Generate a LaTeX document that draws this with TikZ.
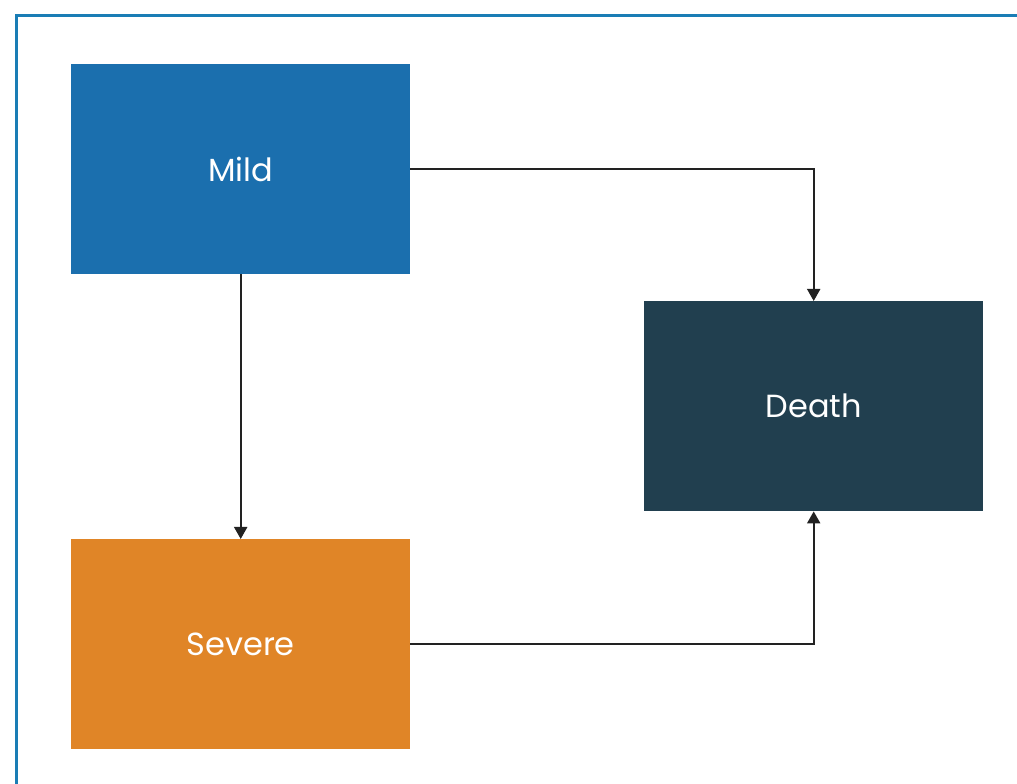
\documentclass[tikz,border=0pt]{standalone}
\usepackage{fontspec}
\setmainfont{Poppins}
\usetikzlibrary{arrows.meta}
\definecolor{frameblue}{HTML}{1A7DB5}
\definecolor{mildblue}{HTML}{1B6FAE}
\definecolor{severeorange}{HTML}{E08527}
\definecolor{deathteal}{HTML}{213F4F}
\definecolor{linedark}{HTML}{222222}
\tikzset{
  statebox/.style={minimum width=339pt, minimum height=210pt, inner sep=0pt, text=white, font=\fontsize{32}{36}\selectfont, anchor=north west},
  conn/.style={draw=linedark, line width=2pt, -{Triangle[width=13pt,length=12pt]}}
}
\begin{document}
\begin{tikzpicture}[x=1pt,y=1pt]
\useasboundingbox (0,0) rectangle (1017,784);
\fill[white] (0,0) rectangle (1017,784);
\draw[frameblue, line width=3pt] (16,-5) -- (16,768.5) -- (1025,768.5);
\node[statebox, fill=mildblue] (mild) at (71,720) {Mild};
\node[statebox, fill=severeorange] (severe) at (71,245) {Severe};
\node[statebox, fill=deathteal] (death) at (644,483) {Death};
\draw[conn] (mild.east) -| (death.north);
\draw[conn] (mild.south) -- (severe.north);
\draw[conn] (severe.east) -| (death.south);
\end{tikzpicture}
\end{document}
